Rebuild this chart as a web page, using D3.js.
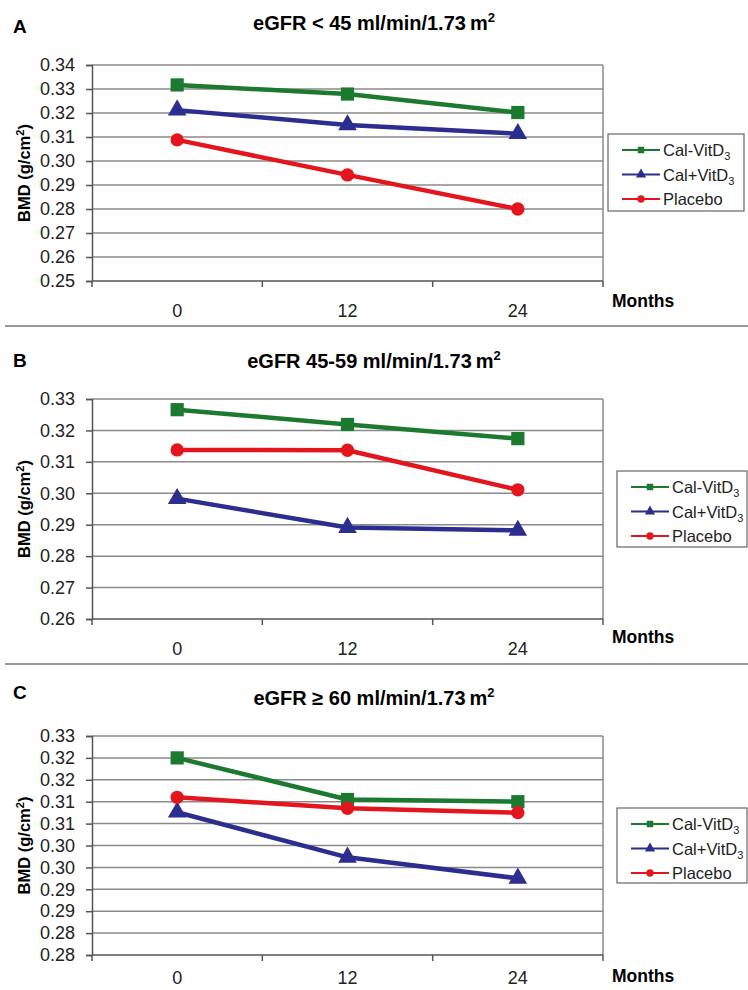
<!DOCTYPE html>
<html>
<head>
<meta charset="utf-8">
<script src="https://cdn.jsdelivr.net/npm/d3@7.9.0/dist/d3.min.js"></script>
<style>
  body { margin: 0; background: #fff; }
  svg { display: block; font-family: "Liberation Sans", Arial, sans-serif; }
</style>
</head>
<body>
<svg id="chart" width="748" height="990"></svg>
<script>
// Months on the x axis and the three groups
const months = ["0", "12", "24"];
const groups = ["Cal-VitD", "Cal+VitD", "Placebo"];

// Panel A: eGFR < 45
const calMinusA = [0.3317, 0.3279, 0.3202];
const calPlusA = [0.3212, 0.3150, 0.3114];
const placeboA = [0.3088, 0.2942, 0.2800];
const ticksA = [0.25, 0.26, 0.27, 0.28, 0.29, 0.30, 0.31, 0.32, 0.33, 0.34];
const tickLabelsA = ["0.25", "0.26", "0.27", "0.28", "0.29", "0.30", "0.31", "0.32", "0.33", "0.34"];

// Panel B: eGFR 45-59
const calMinusB = [0.3266, 0.3219, 0.3174];
const calPlusB = [0.2983, 0.2891, 0.2882];
const placeboB = [0.3138, 0.3137, 0.3011];
const ticksB = [0.26, 0.27, 0.28, 0.29, 0.30, 0.31, 0.32, 0.33];
const tickLabelsB = ["0.26", "0.27", "0.28", "0.29", "0.30", "0.31", "0.32", "0.33"];

// Panel C: eGFR >= 60 (Excel rounds the half-steps down)
const calMinusC = [0.3250, 0.3155, 0.3150];
const calPlusC = [0.3126, 0.3023, 0.2975];
const placeboC = [0.3160, 0.3135, 0.3125];
const ticksC = [0.28, 0.285, 0.29, 0.295, 0.30, 0.305, 0.31, 0.315, 0.32, 0.325, 0.33];
const tickLabelsC = ["0.28", "0.28", "0.29", "0.29", "0.30", "0.30", "0.31", "0.31", "0.32", "0.32", "0.33"];

const colors = ["#1c7a30", "#2b2e8e", "#e2161c"];
const symbols = [d3.symbolSquare, d3.symbolTriangle, d3.symbolCircle];
const markerSize = [175, 150, 140];

const svg = d3.select("#chart");

const panels = [
  { letter: "A", title: ["eGFR < 45 ml/min/1.73\u2009m"], series: [calMinusA, calPlusA, placeboA],
    ticks: ticksA, labels: tickLabelsA,
    top: 65, bottom: 281, titleY: 30, letterY: 33, tickY: 317, monthsY: 307,
    legend: { x: 608, y: 134, w: 136, h: 77 }, sep: 326 },
  { letter: "B", title: ["eGFR 45-59 ml/min/1.73\u2009m"], series: [calMinusB, calPlusB, placeboB],
    ticks: ticksB, labels: tickLabelsB,
    top: 399, bottom: 619, titleY: 368, letterY: 367, tickY: 655, monthsY: 643,
    legend: { x: 617, y: 471, w: 130, h: 76 }, sep: 664 },
  { letter: "C", title: ["eGFR \u2265 60 ml/min/1.73\u2009m"], series: [calMinusC, calPlusC, placeboC],
    ticks: ticksC, labels: tickLabelsC,
    top: 736, bottom: 955, titleY: 705, letterY: 699, tickY: 984, monthsY: 982,
    legend: { x: 617, y: 808, w: 130, h: 75 }, sep: null }
];

const left = 92, right = 603;

panels.forEach(p => {
  const g = svg.append("g");

  let x = d3.scaleBand().domain(months).range([left, right]);
  let y = d3.scaleLinear().domain(d3.extent(p.ticks)).range([p.bottom, p.top]);

  // letter + title
  g.append("text").attr("x", 13).attr("y", p.letterY)
    .attr("font-size", 19).attr("font-weight", "bold").text(p.letter);
  let t = g.append("text").attr("x", 374).attr("y", p.titleY)
    .attr("text-anchor", "middle").attr("font-size", 20).attr("font-weight", "bold");
  t.append("tspan").text(p.title[0]);
  t.append("tspan").attr("dy", -8).attr("font-size", 13).text("2");

  // gridlines
  g.append("g").selectAll("line").data(p.ticks.slice(1)).join("line")
    .attr("x1", left).attr("x2", right)
    .attr("y1", d => y(d)).attr("y2", d => y(d))
    .attr("stroke", "#8a8a8a").attr("stroke-width", 1.5);
  g.append("line").attr("x1", right).attr("x2", right)
    .attr("y1", p.top).attr("y2", p.bottom)
    .attr("stroke", "#8a8a8a").attr("stroke-width", 1.5);

  // y axis
  let yAxis = d3.axisLeft(y).tickValues(p.ticks).tickSize(6)
    .tickFormat((d, i) => p.labels[i]);
  let ya = g.append("g").attr("transform", `translate(${left},0)`).call(yAxis);
  ya.select(".domain").attr("stroke", "#555").attr("stroke-width", 1.5);
  ya.selectAll(".tick line").attr("stroke", "#555").attr("stroke-width", 1.5);
  ya.selectAll(".tick text").attr("font-size", 18).attr("fill", "#222")
    .attr("x", -17).attr("font-family", "Liberation Sans, Arial, sans-serif");

  // x axis: ticks between categories, labels dropped lower
  let xa = g.append("g").attr("transform", `translate(0,${p.bottom})`);
  xa.append("line").attr("x1", left).attr("x2", right)
    .attr("stroke", "#555").attr("stroke-width", 1.5);
  let bounds = months.map(m => x(m)).concat([right]);
  xa.selectAll(".xt").data(bounds).join("line").attr("class", "xt")
    .attr("x1", d => d).attr("x2", d => d).attr("y1", 0).attr("y2", 6)
    .attr("stroke", "#555").attr("stroke-width", 1.5);
  g.selectAll(".xl").data(months).join("text").attr("class", "xl")
    .attr("x", d => x(d) + x.bandwidth() / 2).attr("y", p.tickY)
    .attr("text-anchor", "middle").attr("font-size", 18).attr("fill", "#222")
    .text(d => d);
  g.append("text").attr("x", 612).attr("y", p.monthsY)
    .attr("font-size", 17.5).attr("font-weight", "bold").text("Months");

  // y label
  let cy = (p.top + p.bottom) / 2;
  let yl = g.append("text").attr("transform", `translate(30,${cy}) rotate(-90)`)
    .attr("text-anchor", "middle").attr("font-size", 16.5).attr("font-weight", "bold");
  yl.append("tspan").text("BMD (g/cm");
  yl.append("tspan").attr("dy", -6).attr("font-size", 11).text("2");
  yl.append("tspan").attr("dy", 6).text(")");

  // series lines + markers
  let line = d3.line().x((d, i) => x(months[i]) + x.bandwidth() / 2).y(d => y(d));
  p.series.forEach((vals, si) => {
    g.append("path").datum(vals).attr("d", line)
      .attr("fill", "none").attr("stroke", colors[si]).attr("stroke-width", 4.5)
      .attr("stroke-linejoin", "round");
    g.selectAll(".m" + si).data(vals).join("path").attr("class", "m" + si)
      .attr("transform", (d, i) => `translate(${x(months[i]) + x.bandwidth() / 2},${y(d)})`)
      .attr("d", d3.symbol().type(symbols[si]).size(markerSize[si]))
      .attr("fill", colors[si]);
  });

  // legend
  let L = p.legend;
  let lg = g.append("g");
  lg.append("rect").attr("x", L.x).attr("y", L.y).attr("width", L.w).attr("height", L.h)
    .attr("fill", "#fff").attr("stroke", "#666").attr("stroke-width", 1.2);
  groups.forEach((name, i) => {
    let ly = L.y + 16 + i * 24.5;
    let lx = L.x + 14;
    lg.append("line").attr("x1", lx).attr("x2", lx + 38).attr("y1", ly).attr("y2", ly)
      .attr("stroke", colors[i]).attr("stroke-width", 2.2);
    lg.append("path").attr("transform", `translate(${lx + 19},${ly})`)
      .attr("d", d3.symbol().type(symbols[i]).size(i === 1 ? 45 : 42))
      .attr("fill", colors[i]);
    let tx = lg.append("text").attr("x", lx + 41).attr("y", ly + 6)
      .attr("font-size", 16.5).attr("fill", "#222");
    tx.append("tspan").text(name);
    if (i < 2) tx.append("tspan").attr("dy", 4).attr("font-size", 11).text("3");
  });

  // separator line
  if (p.sep !== null) {
    svg.append("line").attr("x1", 5).attr("x2", 748).attr("y1", p.sep).attr("y2", p.sep)
      .attr("stroke", "#999").attr("stroke-width", 2);
  }
});
</script>
</body>
</html>
